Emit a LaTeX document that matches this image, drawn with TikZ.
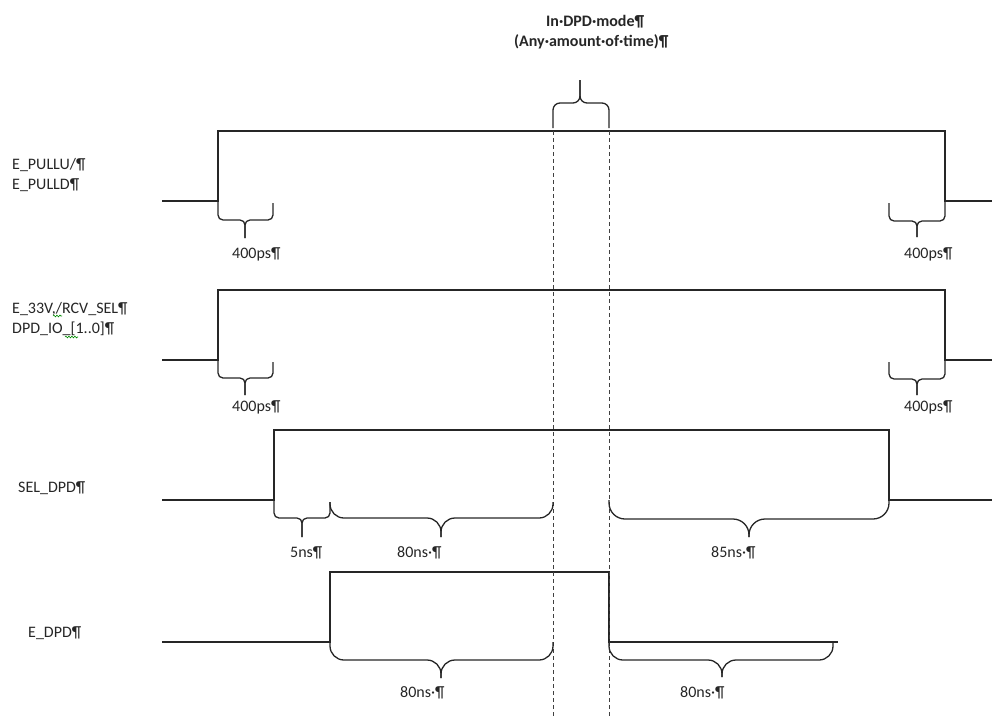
\documentclass[tikz,border=0pt]{standalone}
\usepackage{fontspec}
\setmainfont{Carlito}
\usetikzlibrary{decorations.pathmorphing}
\newcommand\tbr[8]{% x1 x2 xm ytop1 ytop2 ybot ytip radius
  \draw[brc=#8] (#1,#4) -- (#1,#6) -- (#3,#6) -- (#3,#7);
  \draw[brc=#8] (#2,#5) -- (#2,#6) -- (#3,#6) -- (#3,#7);}
\begin{document}
\begin{tikzpicture}[x=1pt,y=-1pt,
  sig/.style={line width=1.4pt, line join=miter, draw=black!85},
  brc/.style={line width=1.3pt, draw=black!85, rounded corners=#1},
  dsh/.style={line width=0.9pt, draw=black!75, dash pattern=on 4pt off 3pt},
  lbl/.style={inner sep=0pt, anchor=base west, font=\fontsize{16}{19}\selectfont, text=black!85},
  ttl/.style={inner sep=0pt, anchor=base west, font=\fontsize{16}{19}\selectfont\bfseries, text=black!85},
  squig/.style={draw=green!55!black, line width=0.6pt, decorate, decoration={snake, amplitude=0.9pt, segment length=3pt}}
]
\useasboundingbox (0,0) rectangle (992,717);

% titles
\node[ttl] (t1) at (546,27) {In·DPD·mode¶};
\node[ttl] (t2) at (514,47) {(Any·amount·of·time)¶};

% signal names
\node[lbl] (s1a) at (12,169) {E\_PULLU/¶};
\node[lbl] (s1b) at (12,189) {E\_PULLD¶};
\node[lbl] (s2a) at (12,313) {E\_33V,/RCV\_SEL¶};
\node[lbl] (s2b) at (12,333) {DPD\_IO\_[1..0]¶};
\node[lbl] (s3) at (18,492) {SEL\_DPD¶};
\node[lbl] (s4) at (28,637) {E\_DPD¶};
\draw[squig] (53,316) -- (62,316);
\draw[squig] (65,337) -- (78,337);

% waveforms
\draw[sig] (162,201) -- (218,201) -- (218,131) -- (945,131) -- (945,201) -- (992,201);
\draw[sig] (162,360) -- (218,360) -- (218,290) -- (945,290) -- (945,360) -- (992,360);
\draw[sig] (162,500) -- (274,500) -- (274,430) -- (889,430) -- (889,500) -- (992,500);
\draw[sig] (162,642) -- (330,642) -- (330,572) -- (609,572) -- (609,642) -- (838,642);

% dashed markers
\coordinate (d1t) at (553,131); \coordinate (d1b) at (553,717);
\coordinate (d2t) at (609,131); \coordinate (d2b) at (609,717);
\draw[dsh] (d1t) -- (d1b);
\draw[dsh] (d2t) -- (d2b);

% braces
\tbr{553}{609}{580}{128}{128}{103}{80}{7pt}
\tbr{218}{273}{245}{201}{203}{220}{238}{5pt}
\tbr{889}{945}{917}{203}{201}{221}{237}{5pt}
\tbr{218}{273}{245}{360}{362}{378}{395}{5pt}
\tbr{889}{945}{917}{362}{360}{379}{395}{5pt}
\tbr{274}{330}{302}{500}{502}{518}{537}{5pt}
\tbr{330}{553}{441}{502}{502}{518}{537}{14pt}
\tbr{609}{889}{749}{500}{500}{519}{537}{16pt}
\tbr{330}{553}{441}{642}{642}{660}{678}{14pt}
\tbr{609}{833}{722}{642}{642}{660}{677}{14pt}

% timing labels
\node[lbl] (l1) at (232,258) {400ps¶};
\node[lbl] (l2) at (904,258) {400ps¶};
\node[lbl] (l3) at (232,411) {400ps¶};
\node[lbl] (l4) at (904,411) {400ps¶};
\node[lbl] (l5) at (290,557) {5ns¶};
\node[lbl] (l6) at (397,557) {80ns·¶};
\node[lbl] (l7) at (711,557) {85ns·¶};
\node[lbl] (l8) at (400,697) {80ns·¶};
\node[lbl] (l9) at (680,697) {80ns·¶};
\end{tikzpicture}
\end{document}
